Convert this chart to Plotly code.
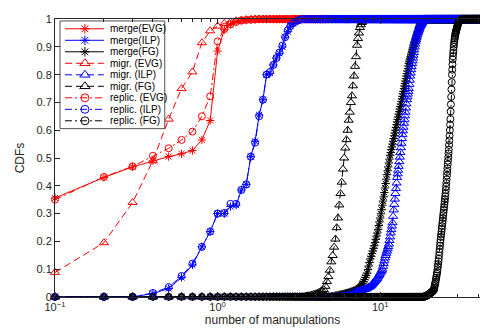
import plotly.graph_objects as go

# ---------------- data (CDFs evaluated on a 0.1 grid of manipulations) ----------------
STEP = 0.1

names = ["merge(EVG)", "merge(ILP)", "merge(FG)",
         "migr. (EVG)", "migr. (ILP)", "migr. (FG)",
         "replic. (EVG)", "replic. (ILP)", "replic. (FG)"]

# number of leading zero values (starting at x = 0.1)
lead_zeros = {"merge(EVG)": 0, "merge(ILP)": 3, "merge(FG)": 49,
              "migr. (EVG)": 0, "migr. (ILP)": 55, "migr. (FG)": 34,
              "replic. (EVG)": 0, "replic. (ILP)": 3, "replic. (FG)": 185}

# last x of each series (CDF stays at 1 after the rising part)
x_last = {"merge(EVG)": 4.7, "merge(ILP)": 41.0, "merge(FG)": 41.0,
          "migr. (EVG)": 4.7, "migr. (ILP)": 41.0, "migr. (FG)": 41.0,
          "replic. (EVG)": 4.7, "replic. (ILP)": 41.0, "replic. (FG)": 41.0}

merge_evg = [0.356, 0.430, 0.468, 0.490, 0.505, 0.515, 0.527, 0.565, 0.635, 0.885,
             0.962, 0.980, 0.990, 0.995, 0.997, 0.998, 0.999]
merge_ilp = [0.012, 0.030, 0.070, 0.115, 0.180, 0.235, 0.300, 0.300, 0.325, 0.330,
             0.385, 0.405, 0.505, 0.560, 0.655, 0.710, 0.800, 0.805, 0.835, 0.860,
             0.877, 0.900, 0.935, 0.955, 0.975, 0.985, 0.990, 0.995, 0.998]
merge_fg = [0.001, 0.002, 0.003, 0.004, 0.005, 0.006, 0.007, 0.008, 0.009, 0.010,
            0.011, 0.012, 0.013, 0.014, 0.015, 0.016, 0.018, 0.019, 0.020, 0.022,
            0.023, 0.025, 0.026, 0.029, 0.032, 0.035, 0.038, 0.043, 0.049, 0.055,
            0.062, 0.070, 0.077, 0.085, 0.098, 0.111, 0.124, 0.137, 0.146, 0.156,
            0.165, 0.175, 0.184, 0.196, 0.207, 0.219, 0.230, 0.243, 0.257, 0.270,
            0.284, 0.299, 0.314, 0.330, 0.345, 0.360, 0.376, 0.392, 0.408, 0.424,
            0.440, 0.454, 0.468, 0.482, 0.496, 0.510, 0.520, 0.530, 0.540, 0.550,
            0.560, 0.570, 0.580, 0.590, 0.600, 0.610, 0.620, 0.630, 0.639, 0.648,
            0.658, 0.667, 0.676, 0.685, 0.694, 0.704, 0.713, 0.722, 0.731, 0.740,
            0.750, 0.759, 0.768, 0.777, 0.786, 0.795, 0.804, 0.813, 0.822, 0.831,
            0.840, 0.846, 0.853, 0.859, 0.865, 0.872, 0.878, 0.884, 0.891, 0.897,
            0.904, 0.910, 0.915, 0.920, 0.925, 0.930, 0.935, 0.940, 0.945, 0.950,
            0.955, 0.960, 0.965, 0.970, 0.973, 0.976, 0.979, 0.982, 0.985, 0.988,
            0.990, 0.992, 0.994, 0.996, 0.998, 0.999]
migr_evg = [0.088, 0.195, 0.340, 0.490, 0.640, 0.750, 0.810, 0.915, 0.958, 0.975,
            0.985, 0.990, 0.994, 0.997, 0.998, 0.999]
migr_ilp = [0.001, 0.001, 0.002, 0.002,
            0.003, 0.003, 0.004, 0.005, 0.006, 0.007, 0.008, 0.009, 0.011, 0.013,
            0.015, 0.017, 0.019, 0.020, 0.021, 0.022, 0.023, 0.024, 0.025, 0.026,
            0.027, 0.028, 0.029, 0.031, 0.033, 0.035, 0.036, 0.038, 0.041, 0.044,
            0.048, 0.051, 0.054, 0.057, 0.060, 0.064, 0.067, 0.072, 0.077, 0.081,
            0.086, 0.090, 0.095, 0.100, 0.110, 0.120, 0.130, 0.140, 0.149, 0.157,
            0.165, 0.173, 0.181, 0.190, 0.203, 0.216, 0.230, 0.242, 0.255, 0.267,
            0.290, 0.313, 0.333, 0.352, 0.372, 0.390, 0.410, 0.430, 0.443, 0.456,
            0.470, 0.487, 0.503, 0.520, 0.537, 0.553, 0.570, 0.584, 0.598, 0.611,
            0.625, 0.638, 0.652, 0.665, 0.680, 0.695, 0.710, 0.720, 0.730, 0.740,
            0.750, 0.765, 0.780, 0.795, 0.806, 0.818, 0.829, 0.840, 0.850, 0.860,
            0.870, 0.880, 0.890, 0.900, 0.910, 0.920, 0.926, 0.932, 0.938, 0.944,
            0.950, 0.954, 0.958, 0.963, 0.967, 0.971, 0.975, 0.978, 0.980, 0.983,
            0.985, 0.988, 0.990, 0.992, 0.993, 0.995, 0.996, 0.997, 0.998, 0.999]
migr_fg = [0.003, 0.004, 0.005, 0.007, 0.009,
           0.011, 0.013, 0.016, 0.019, 0.022, 0.026, 0.038, 0.055, 0.073, 0.096,
           0.126, 0.149, 0.179, 0.208, 0.249, 0.284, 0.331, 0.372, 0.413, 0.460,
           0.500, 0.536, 0.566, 0.600, 0.636, 0.665, 0.700, 0.724, 0.760, 0.795,
           0.830, 0.865, 0.906, 0.930, 0.950, 0.970, 0.980, 0.988, 0.993, 0.996,
           0.998]
replic_evg = [0.350, 0.432, 0.470, 0.508, 0.535, 0.565, 0.595, 0.650, 0.722, 0.920,
              0.965, 0.982, 0.990, 0.995, 0.997, 0.998, 0.999]
replic_ilp = [0.014, 0.035, 0.075, 0.120, 0.180, 0.235, 0.300, 0.302, 0.335, 0.335,
              0.385, 0.405, 0.505, 0.555, 0.650, 0.710, 0.800, 0.810, 0.835, 0.860,
              0.880, 0.905, 0.935, 0.960, 0.975, 0.985, 0.990, 0.995, 0.998]
replic_fg = [0.001, 0.001, 0.002, 0.002,
             0.003, 0.003, 0.004, 0.004, 0.005, 0.006, 0.007, 0.007, 0.008, 0.009,
             0.010, 0.011, 0.012, 0.013, 0.014, 0.015, 0.016, 0.017, 0.018, 0.019,
             0.020, 0.021, 0.023, 0.024, 0.026, 0.032, 0.038, 0.044, 0.050, 0.055,
             0.062, 0.069, 0.076, 0.083, 0.090, 0.099, 0.109, 0.118, 0.128, 0.137,
             0.149, 0.161, 0.172, 0.184, 0.196, 0.206, 0.216, 0.225, 0.235, 0.245,
             0.255, 0.265, 0.274, 0.284, 0.294, 0.303, 0.313, 0.323, 0.333, 0.343,
             0.352, 0.362, 0.372, 0.385, 0.397, 0.410, 0.423, 0.437, 0.450, 0.463,
             0.477, 0.490, 0.503, 0.517, 0.530, 0.547, 0.563, 0.580, 0.600, 0.620,
             0.640, 0.667, 0.693, 0.720, 0.747, 0.773, 0.800, 0.818, 0.837, 0.855,
             0.866, 0.878, 0.889, 0.900, 0.908, 0.917, 0.925, 0.931, 0.936, 0.942,
             0.947, 0.951, 0.954, 0.958, 0.961, 0.965, 0.968, 0.971, 0.974, 0.977,
             0.980, 0.983, 0.985, 0.988, 0.990, 0.991, 0.992, 0.993, 0.994, 0.994,
             0.995, 0.995, 0.996, 0.996, 0.997, 0.997, 0.997, 0.998, 0.998, 0.998,
             0.999, 0.999, 0.999, 0.999, 0.999]

rising = {"merge(EVG)": merge_evg, "merge(ILP)": merge_ilp, "merge(FG)": merge_fg,
          "migr. (EVG)": migr_evg, "migr. (ILP)": migr_ilp, "migr. (FG)": migr_fg,
          "replic. (EVG)": replic_evg, "replic. (ILP)": replic_ilp, "replic. (FG)": replic_fg}

x_tickvals = [0.1, 1, 10]
x_ticktext = ["10<sup>\u22121</sup>", "10<sup>0</sup>", "10<sup>1</sup>"]
x_minor = [0.2, 0.3, 0.4, 0.5, 0.6, 0.7, 0.8, 0.9, 2, 3, 4, 5, 6, 7, 8, 9, 20, 30, 40]
y_tickvals = [0, 0.1, 0.2, 0.3, 0.4, 0.5, 0.6, 0.7, 0.8, 0.9, 1]
y_ticktext = ["0", "0.1", "0.2", "0.3", "0.4", "0.5", "0.6", "0.7", "0.8", "0.9", "1"]

# ---------------- styles ----------------
colors = {"EVG": "#FF0000", "ILP": "#0000FF", "FG": "#000000"}
style = {"merge": ("solid", "asterisk-open", 7),
         "migr.": ("7px,4px", "triangle-up-open", 8),
         "replic.": ("7px,3px,2px,3px", "circle-open", 7)}


def series_y(name):
    n_total = int(round(x_last[name] / STEP))
    vals = [0.0] * lead_zeros[name] + rising[name]
    return vals + [1.0] * (n_total - len(vals))


def parts(name):
    kind = name.split("(")[0].strip()
    grp = name.split("(")[1].rstrip(")")
    return style[kind], colors[grp]


fig = go.Figure()
for name in names:
    y = series_y(name)
    x = [round(STEP * (i + 1), 1) for i in range(len(y))]
    (dash, sym, size), col = parts(name)
    fig.add_trace(go.Scatter(
        x=x, y=y, mode="lines+markers", name=name, showlegend=False,
        cliponaxis=False,
        line=dict(color=col, width=1, dash=dash),
        marker=dict(symbol=sym, size=size, color=col,
                    line=dict(color=col, width=1))))

# ---------------- legend (drawn in pixel coordinates of an overlay axis) ----------------
LEG_L, LEG_R, LEG_T, LEG_B = 52, 157, 7, 117
ROW0, ROW_H = 15, 11.75
fig.add_trace(go.Scatter(
    x=[LEG_L, LEG_R, LEG_R, LEG_L, LEG_L], y=[LEG_T, LEG_T, LEG_B, LEG_B, LEG_T],
    xaxis="x2", yaxis="y2", mode="lines", fill="toself", fillcolor="white",
    line=dict(color="#262626", width=0.8), showlegend=False, hoverinfo="skip"))
annotations = []
for i, name in enumerate(names):
    (dash, sym, size), col = parts(name)
    ry = ROW0 + i * ROW_H
    fig.add_trace(go.Scatter(
        x=[57, 96], y=[ry, ry], xaxis="x2", yaxis="y2", mode="lines",
        line=dict(color=col, width=1, dash=dash), showlegend=False, hoverinfo="skip"))
    fig.add_trace(go.Scatter(
        x=[77], y=[ry], xaxis="x2", yaxis="y2", mode="markers",
        marker=dict(symbol=sym, size=size + 1, color=col, line=dict(color=col, width=1)),
        showlegend=False, hoverinfo="skip"))
    annotations.append(dict(x=100, y=ry, xref="x2", yref="y2", text=name,
                            showarrow=False, xanchor="left", yanchor="middle",
                            font=dict(size=10, color="#000000")))

AX = "#262626"
FONT = "Liberation Sans, Arial, Helvetica, sans-serif"
fig.update_layout(
    width=488, height=329,
    margin=dict(l=47, r=5, t=5, b=40),
    paper_bgcolor="white", plot_bgcolor="white",
    font=dict(family=FONT, size=11, color=AX),
    annotations=annotations,
    xaxis=dict(type="log", range=[-1, 1.675], tickvals=x_tickvals, ticktext=x_ticktext,
               ticks="inside", ticklen=5, tickcolor=AX, tickwidth=1,
               showline=True, linecolor=AX, linewidth=1, mirror="ticks",
               showgrid=False, zeroline=False,
               minor=dict(tickvals=x_minor, ticks="inside", ticklen=3, tickcolor=AX,
                          showgrid=False),
               title=dict(text="number of manupulations", font=dict(size=12), standoff=2),
               tickfont=dict(size=11), ticklabeloverflow="allow"),
    yaxis=dict(range=[-0.0005, 1.0005], tickvals=y_tickvals, ticktext=y_ticktext,
               ticks="inside", ticklen=5, tickcolor=AX, tickwidth=1,
               showline=True, linecolor=AX, linewidth=1, mirror="ticks",
               showgrid=False, zeroline=False,
               title=dict(text="CDFs", font=dict(size=12), standoff=9),
               tickfont=dict(size=11), ticklabeloverflow="allow"),
    xaxis2=dict(overlaying="x", range=[47, 483], visible=False, fixedrange=True),
    yaxis2=dict(overlaying="y", range=[289, 5], visible=False, fixedrange=True),
)

fig.write_html("out.html")
